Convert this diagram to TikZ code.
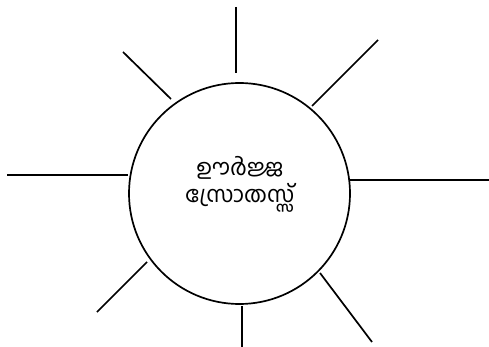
\documentclass[tikz,border=0pt]{standalone}
\usepackage{fontspec}
\newfontfamily\malfont[Script=Malayalam]{Hind Kochi}
\begin{document}
\begin{tikzpicture}[x=1pt,y=-1pt,
  ray/.style={line width=1.7pt},
  sun/.style={circle,draw,line width=1.7pt,minimum size=221pt,inner sep=0pt}]
\useasboundingbox (0,0) rectangle (489,347);
\node[sun] (c) at (239.5,193.5) {};
\node[font=\malfont\fontsize{22.5}{27}\selectfont,align=center] (t) at (240,184) {ഊർജ്ജ\\സ്രോതസ്സ്};
\coordinate (a1) at (236,7);   \coordinate (b1) at (236,73);
\coordinate (a2) at (378,40);  \coordinate (b2) at (312,106);
\coordinate (a3) at (123,52);  \coordinate (b3) at (171,99);
\coordinate (a4) at (7,175);   \coordinate (b4) at (128,175);
\coordinate (a5) at (489,180); \coordinate (b5) at (350,180);
\coordinate (a6) at (97,312);  \coordinate (b6) at (147,262);
\coordinate (a7) at (242,347); \coordinate (b7) at (242,306);
\coordinate (a8) at (372,342); \coordinate (b8) at (320,273);
\foreach \i in {1,...,8} \draw[ray] (a\i) -- (b\i);
\end{tikzpicture}
\end{document}
